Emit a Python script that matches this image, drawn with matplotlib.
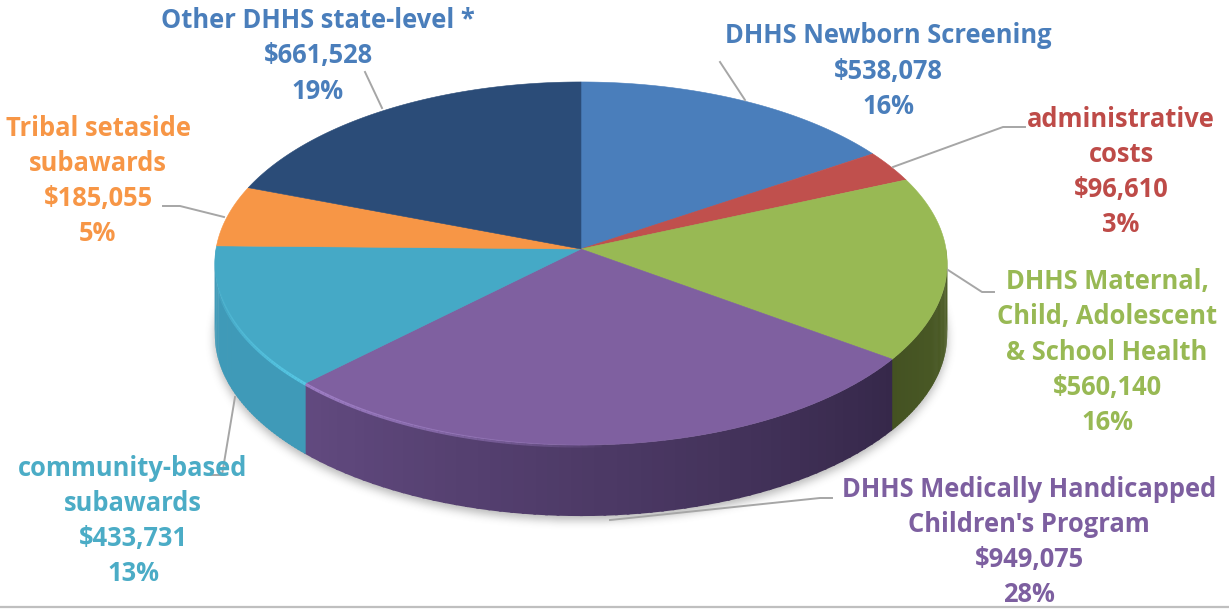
# Three dimensional looking budget pie
import numpy as np
import matplotlib
matplotlib.use("Agg")
import matplotlib.pyplot as plt
from matplotlib.patches import Polygon
from matplotlib.path import Path

plt.rcParams['font.family'] = ['Open Sans', 'DejaVu Sans']

# clockwise from 12 o'clock
categories = ["DHHS Newborn Screening", "administrative\ncosts",
              "DHHS Maternal,\nChild, Adolescent\n& School Health",
              "DHHS Medically Handicapped\nChildren's Program",
              "community-based\nsubawards", "Tribal setaside\nsubawards",
              "Other DHHS state-level *"]
values = [538078, 96610, 560140, 949075, 433731, 185055, 661528]
percents = [16, 3, 16, 28, 13, 5, 19]

top_colors = ["#4a7ebb", "#c0504d", "#98b954", "#7f60a0", "#45a9c6", "#f79646", "#2b4c78"]
text_colors = ["#4a7ebb", "#be4b48", "#98b954", "#7d5fa0", "#4bacc6", "#f79646", "#4a7ebb"]
# wall colours at the two ends of each slice
wall_start = ["#4a7ebb", "#c0504d", "#4f6028", "#36284a", "#3f9ab8", "#f79646", "#2b4c78"]
wall_end = ["#4a7ebb", "#c0504d", "#445222", "#624a80", "#3f9ab8", "#f79646", "#2b4c78"]

label_pos = [(888, 71), (1121, 172), (1107, 352), (1029, 542), (133, 521), (98, 181), (318, 56)]
leaders = [[(745, 100), (720, 62)],
           [(893, 167), (1003, 127), (1025, 127)],
           [(948, 270), (982, 292), (994, 292)],
           [(610, 520), (820, 498), (832, 498)],
           [(235, 397), (222, 475), (210, 475)],
           [(224, 217), (180, 206), (163, 206)],
           [(382, 108), (365, 72)]]

CX, CY = 581, 249
SCALE_X, SCALE_Y = 365, 180.4
PERSP = 0.08
DEPTH = 71


def rim(deg):
    # rim point, degrees clockwise from the top, with a perspective divide
    t = np.radians(deg)
    d = 1 + PERSP * np.cos(t)
    return CX + SCALE_X * np.sin(t) / d, CY - SCALE_Y * np.cos(t) / d


def to_rgb(c):
    return np.array(matplotlib.colors.to_rgb(c))


fig = plt.figure(figsize=(12.29, 6.09), dpi=100)
ax = fig.add_axes([0, 0, 1, 1])
ax.set_xlim(0, 1229)
ax.set_ylim(609, 0)
ax.axis("off")

edges = np.concatenate([[0], np.cumsum(values) / np.sum(values) * 360])

# soft shadow under the body, a blurred mask of the lower outline
sx, sy = rim(np.linspace(0, 360, 240))
yy, xx = np.mgrid[0:609, 0:1229]
grid = np.column_stack([xx.ravel() + 0.5, yy.ravel() + 0.5])
mask = Path(np.column_stack([sx, sy + DEPTH + 4])).contains_points(grid).reshape(xx.shape).astype(float)
kernel = np.ones(9) / 9
for _ in range(3):
    mask = np.apply_along_axis(lambda r: np.convolve(r, kernel, mode="same"), 0, mask)
    mask = np.apply_along_axis(lambda r: np.convolve(r, kernel, mode="same"), 1, mask)
shadow = np.zeros(mask.shape + (4,))
shadow[..., :3] = 0.35
shadow[..., 3] = mask * 0.45
ax.imshow(shadow, extent=(0, 1229, 609, 0), aspect="auto", zorder=1, interpolation="bilinear")

# outer wall, built from thin strips so it can shade round the rim
for i in range(len(values)):
    lo = max(edges[i], 90)
    hi = min(edges[i + 1], 270)
    if lo >= hi:
        continue
    steps = np.linspace(lo, hi, 60)
    c0, c1 = to_rgb(wall_start[i]), to_rgb(wall_end[i])
    for a, b in zip(steps[:-1], steps[1:]):
        ax0, ay0 = rim(a)
        ax1, ay1 = rim(b + 0.4)
        mix = (a - lo) / (hi - lo)
        ax.add_patch(Polygon([(ax0, ay0), (ax1, ay1), (ax1, ay1 + DEPTH), (ax0, ay0 + DEPTH)],
                             closed=True, fc=c0 + (c1 - c0) * mix, ec="none", zorder=2))

# top face
for i in range(len(values)):
    steps = np.linspace(edges[i], edges[i + 1], 100)
    px, py = rim(steps)
    pts = np.vstack([[CX, CY], np.column_stack([px, py])])
    ax.add_patch(Polygon(pts, closed=True, fc=top_colors[i], ec=top_colors[i], lw=0.4, zorder=3))

# bevel highlight on the front left of the rim, fading out at both ends
for i, col, lo, hi in [(3, "#a483cc", 176, edges[4]), (4, "#58cbe8", edges[4], 258)]:
    steps = np.linspace(lo, hi, 50)
    px, py = rim(steps)
    for k in range(len(steps) - 1):
        fade = k / 49 if i == 3 else 1 - k / 49
        ax.plot(px[k:k + 2], py[k:k + 2] + 1, color=col, lw=2.2, alpha=0.9 * fade ** 0.7,
                zorder=4, solid_capstyle="butt")

for path in leaders:
    xs, ys = zip(*path)
    ax.plot(xs, ys, color="#a6a6a6", lw=1.4, zorder=5)

for name, val, pct, col, pos in zip(categories, values, percents, text_colors, label_pos):
    txt = f"{name}\n${val:,}\n{pct}%"
    ax.text(pos[0], pos[1], txt, color=col, fontsize=18.4, fontweight="bold",
            ha="center", va="center", linespacing=1.39, zorder=6)

ax.plot([0, 1229], [607, 607], color="#bfbfbf", lw=1.6, zorder=1)

ax.set_xlim(0, 1229)
ax.set_ylim(609, 0)
fig.savefig("out.png", dpi=100)
